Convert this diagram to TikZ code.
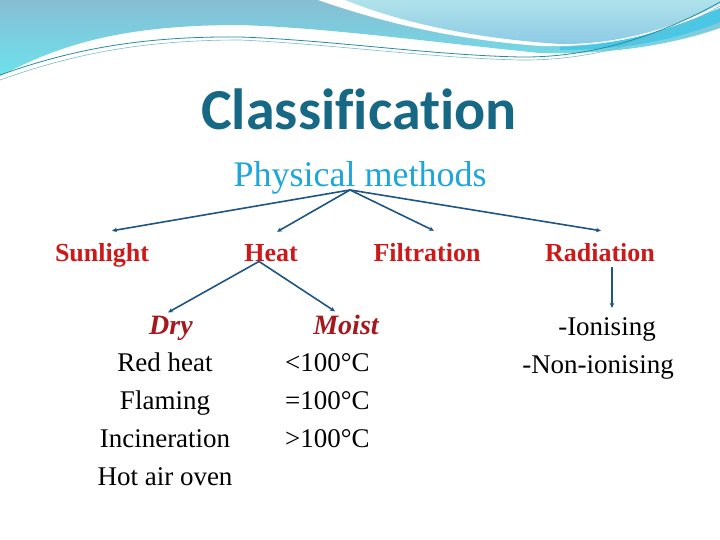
\documentclass[tikz,border=0pt]{standalone}
\usepackage{fontspec}
\setmainfont{Liberation Serif}
\newfontfamily\titlefont[Ligatures=NoCommon]{Carlito}
\usetikzlibrary{positioning, arrows.meta}

\definecolor{titleteal}{RGB}{22,104,132}
\definecolor{physblue}{RGB}{30,165,220}
\definecolor{itemred}{RGB}{205,25,25}
\definecolor{subred}{RGB}{165,25,30}
\definecolor{linkblue}{RGB}{30,85,130}
\definecolor{bandtop}{RGB}{136,190,212}
\definecolor{bandbot}{RGB}{108,226,236}
\definecolor{lenstop}{RGB}{176,226,234}
\definecolor{lensbot}{RGB}{140,202,230}
\definecolor{wavebline}{RGB}{40,140,160}

\tikzset{
  link/.style={draw=linkblue, line width=1.6pt, -{Stealth[length=5pt,width=4.5pt]}},
  method/.style={text=itemred, font=\bfseries\fontsize{26}{30}\selectfont, inner sep=0pt, anchor=base},
  kind/.style={text=subred, font=\bfseries\itshape\fontsize{28}{32}\selectfont, inner sep=0pt, anchor=base},
  item/.style={font=\fontsize{27}{32}\selectfont, inner sep=0pt, anchor=base},
}

\begin{document}
\begin{tikzpicture}[x=1pt, y=-1pt]
\useasboundingbox (0,0) rectangle (720,540);
% top wave
\shade[top color=bandtop, bottom color=bandbot]
  (0,0) -- (0,76) .. controls (60,45) and (120,25) .. (240,25)
  .. controls (330,28) and (430,42) .. (540,53)
  .. controls (620,55) and (680,42) .. (720,28) -- (720,0) -- cycle;
\fill[white] (318,0) .. controls (390,25) and (460,40) .. (540,46)
  .. controls (620,48) and (680,28) .. (720,10) -- (720,0) -- cycle;
\fill[physblue!45!bandbot] (560,47) .. controls (630,45) and (680,25) .. (720,8)
  -- (720,22) .. controls (680,38) and (630,50) .. (560,50) -- cycle;
\shade[top color=lenstop, bottom color=lensbot]
  (345,0) .. controls (400,22) and (470,38) .. (560,44)
  .. controls (630,45) and (690,20) .. (720,4) -- (720,0) -- cycle;
\draw[wavebline, line width=0.8pt] (0,75) .. controls (70,50) and (140,36) .. (240,37)
  .. controls (330,40) and (430,55) .. (520,57) .. controls (600,58) and (670,30) .. (720,2);
\draw[wavebline!60, line width=0.6pt] (0,80) .. controls (70,55) and (140,40) .. (240,40)
  .. controls (330,44) and (430,58) .. (520,60) .. controls (600,61) and (670,35) .. (720,6);

% texts
\node[text=titleteal, font=\titlefont\bfseries\fontsize{58}{60}\selectfont, anchor=base, inner sep=0pt]
  (title) at (359,130) {Classification};
\node[text=physblue, font=\fontsize{36}{40}\selectfont, anchor=base, inner sep=0pt]
  (physical) at (360,187) {Physical methods};

\node[method] (sunlight)   at (102,261) {Sunlight};
\node[method] (heat)       at (271,261) {Heat};
\node[method] (filtration) at (427,261) {Filtration};
\node[method] (radiation)  at (600,261) {Radiation};

\node[kind] (dry)   at (171,334) {Dry};
\node[kind] (moist) at (346,334) {Moist};

\foreach \t [count=\i] in {Red heat, Flaming, Incineration, Hot air oven}
  \node[item] (dry\i) at (165,333+38*\i) {\t};
\foreach \t [count=\i] in {<100°C, =100°C, >100°C}
  \node[item, anchor=base west] (moist\i) at (285,333+38*\i) {\t};
\node[item] (ionising)    at (607,335) {-Ionising};
\node[item] (nonionising) at (598,373) {-Non-ionising};

% connectors
\coordinate (hub) at ([xshift=-10pt,yshift=5pt]physical.south);
\draw[link] (hub) -- ([xshift=10pt,yshift=12pt]sunlight.north);
\draw[link] (hub) -- ([xshift=6pt,yshift=12pt]heat.north);
\draw[link] (hub) -- ([xshift=7pt,yshift=12pt]filtration.north);
\draw[link] (hub) -- ([xshift=1pt,yshift=12pt]radiation.north);
\draw[link] ([xshift=-12pt]heat.south) -- ([xshift=-3pt,yshift=3pt]dry.north);
\draw[link] ([xshift=-12pt]heat.south) -- ([xshift=-11pt,yshift=3pt]moist.north);
\draw[link] ([xshift=12pt,yshift=-6pt]radiation.south)
  -- ([xshift=12pt,yshift=9pt]radiation.south |- ionising.north);
\end{tikzpicture}
\end{document}
